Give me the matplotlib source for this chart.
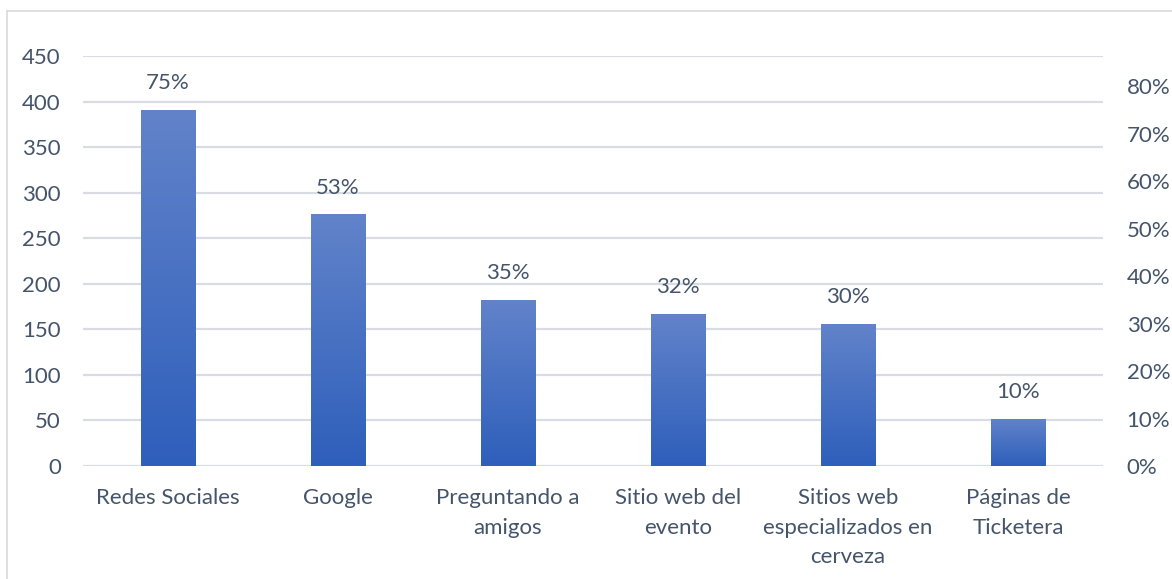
import matplotlib.pyplot as plt
import numpy as np
from matplotlib.colors import LinearSegmentedColormap
from matplotlib.patches import Rectangle

categories = ['Redes Sociales', 'Google', 'Preguntando a\namigos', 'Sitio web del\nevento',
              'Sitios web\nespecializados en\ncerveza', 'Páginas de\nTicketera']
shares = [0.75, 0.53, 0.35, 0.32, 0.30, 0.10]
count_ticks = [0, 50, 100, 150, 200, 250, 300, 350, 400, 450]
share_ticks = [0, 0.1, 0.2, 0.3, 0.4, 0.5, 0.6, 0.7, 0.8]

text_color = '#44546a'
grid_color = '#d9dde3'
fs = 16
plt.rcParams['font.family'] = ['Lato', 'DejaVu Sans']

fig = plt.figure(figsize=(11.72, 5.79), dpi=100)
ax1 = fig.add_axes([83 / 1172, 1 - 466 / 579, 1020 / 1172, 410 / 579])
ax2 = ax1.twinx()

# left axis: counts, only gives the gridlines and labels
ax1.set_ylim(0, 450)
ax1.set_yticks(count_ticks)
ax1.set_xlim(-0.5, len(categories) - 0.5)
ax1.grid(axis='y', color=grid_color, linewidth=1.6)
ax1.set_axisbelow(True)
ax1.set_xticks(range(len(categories)))
ax1.set_xticklabels(categories, fontsize=fs, color=text_color, linespacing=1.6)
ax1.tick_params(axis='both', length=0, labelsize=fs, labelcolor=text_color)
ax1.tick_params(axis='x', pad=16)
ax1.tick_params(axis='y', pad=16)
for s in ax1.spines.values():
    s.set_visible(False)

# right axis: percentages, bars are drawn on it
ax2.set_ylim(0, 0.8632)
ax2.set_yticks(share_ticks)
ax2.set_yticklabels([f'{int(round(t * 100))}%' for t in share_ticks])
ax2.tick_params(axis='y', length=0, labelsize=fs, labelcolor=text_color, pad=17)
for s in ax2.spines.values():
    s.set_visible(False)

cmap = LinearSegmentedColormap.from_list('bar', ['#2e5fbb', '#6283ca'])
grad = np.linspace(0, 1, 256).reshape(-1, 1)
width = 0.32
bars = ax2.bar(range(len(categories)), shares, width=width, color='none')
for i, (b, v) in enumerate(zip(bars, shares)):
    x0 = b.get_x()
    im = ax2.imshow(grad, cmap=cmap, origin='lower', aspect='auto',
                    extent=[x0, x0 + width, 0, v], zorder=2)
    im.set_clip_path(Rectangle((x0, 0), width, v, transform=ax2.transData))
    ax2.annotate(f'{int(round(v * 100))}%', (i, v), xytext=(0, 12),
                 textcoords='offset points', ha='center', va='bottom',
                 fontsize=fs, color=text_color)
ax2.set_xlim(-0.5, len(categories) - 0.5)

# outer chart frame
fig.add_artist(plt.Line2D([7 / 1172, 7 / 1172], [0, 1 - 11 / 579],
                          transform=fig.transFigure, color='#d9d9d9', linewidth=1.2))
fig.add_artist(plt.Line2D([7 / 1172, 1], [1 - 11 / 579, 1 - 11 / 579],
                          transform=fig.transFigure, color='#d9d9d9', linewidth=1.2))

fig.savefig('out.png', dpi=100)
